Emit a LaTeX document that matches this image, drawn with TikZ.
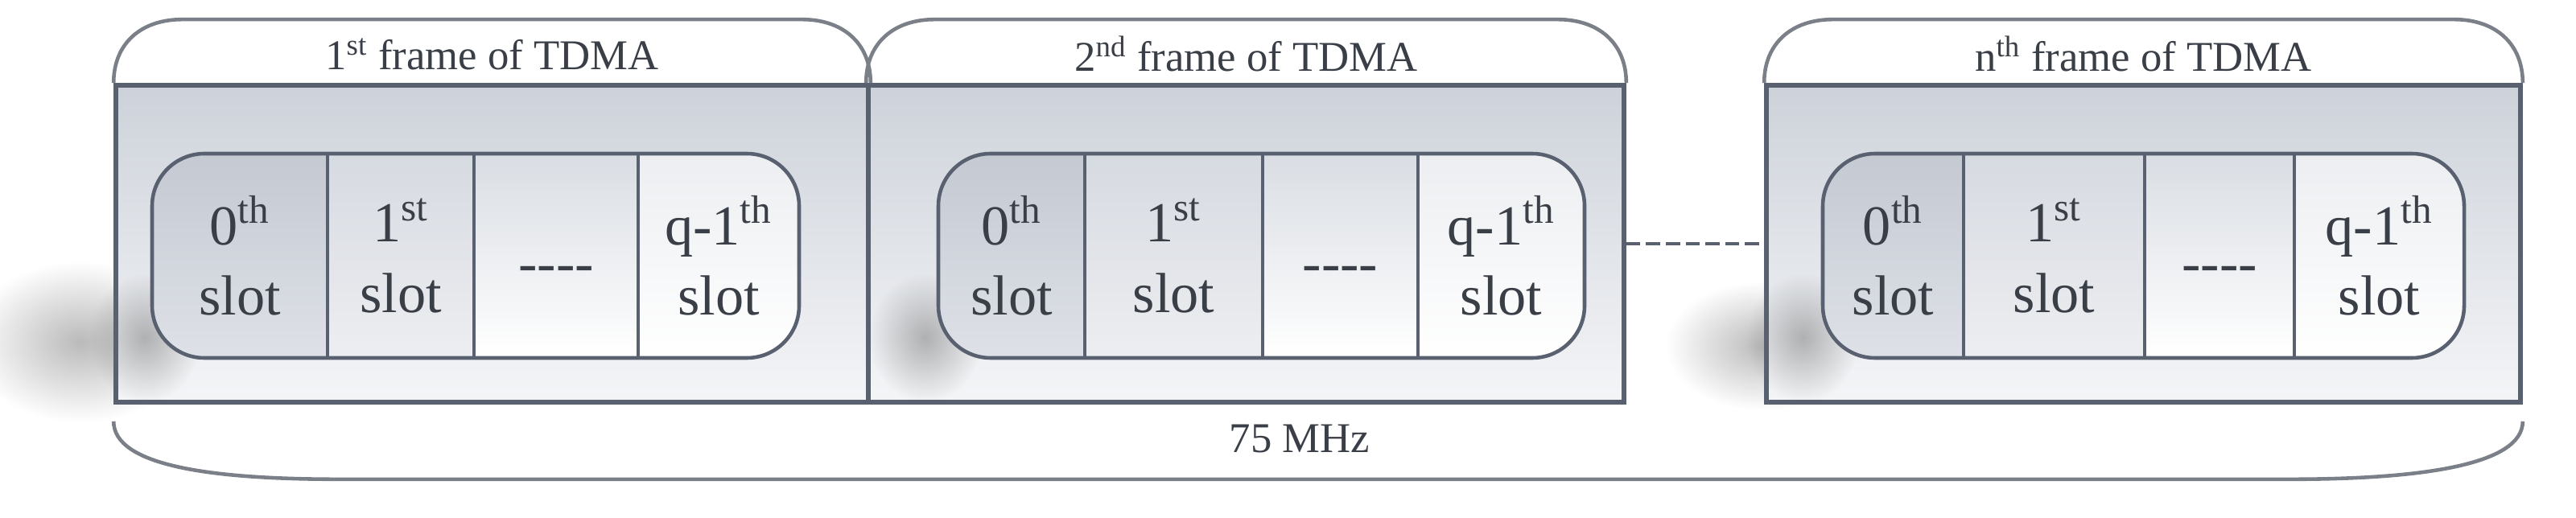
\documentclass[tikz,border=0pt]{standalone}
\usepackage{fontspec}
\setmainfont{Liberation Serif}
\usetikzlibrary{fadings}

\definecolor{edge}{HTML}{596170}
\definecolor{bracegray}{HTML}{7B8088}
\definecolor{ink}{HTML}{3A3F47}
\tikzfading[name = softspot, inner color = transparent!55, outer color = transparent!100]

\tikzset{
  tdmaframe/.style = {draw = edge, line width = 1.6pt, top color = {rgb,255:red,205;green,210;blue,218},
                      bottom color = {rgb,255:red,244;green,245;blue,247}, minimum height = 3.94cm, inner sep = 0pt},
  slotcell/.style  = {draw = edge, line width = 1pt, minimum height = 2.54cm, inner sep = 0pt, align = center,
                      text = ink, font = \fontsize{20}{25}\selectfont},
  slotA/.style     = {top color = {rgb,255:red,196;green,201;blue,210}, bottom color = {rgb,255:red,222;green,225;blue,231}},
  slotB/.style     = {top color = {rgb,255:red,214;green,218;blue,225}, bottom color = {rgb,255:red,237;green,238;blue,241}},
  slotC/.style     = {top color = {rgb,255:red,217;green,221;blue,227}, bottom color = white},
  slotD/.style     = {top color = {rgb,255:red,236;green,238;blue,241}, bottom color = white},
  brace/.style     = {draw = bracegray, line width = 1.3pt},
  frametitle/.style = {text = ink, font = \fontsize{15}{18}\selectfont},
  linkdash/.style  = {draw = edge, line width = 0.9pt, dash pattern = on 5pt off 2pt},
  shadowspot/.style = {fill = black!60, path fading = softspot}
}

\begin{document}
\begin{tikzpicture}
  \useasboundingbox (0,0) rectangle (32.01,-6.44);

  % soft shadows, outside the frames
  \fill [shadowspot] (1.0,-4.25) ellipse (1.4cm and 1.0cm);
  \fill [shadowspot] (21.9,-4.3) ellipse (1.2cm and 0.8cm);

  % frames
  \node [tdmaframe, minimum width = 9.35cm] (frA) at (6.115,-3.03) {};
  \node [tdmaframe, minimum width = 9.39cm] (frB) at (15.485,-3.03) {};
  \node [tdmaframe, minimum width = 9.37cm] (frN) at (26.635,-3.03) {};

  % soft shadows, inside the frames
  \foreach \x in {1.8, 11.5, 22.4}
    \fill [shadowspot] (\x,-4.2) ellipse (0.7cm and 0.8cm);

  % slot groups
  \foreach \f/\a/\b/\c/\d/\e in {A/1.89/4.07/5.89/7.93/9.93, B/11.66/13.48/15.69/17.62/19.69, N/22.65/24.40/26.65/28.51/30.62} {
    \begin{scope}
      \clip [rounded corners = 0.65cm] (\a,-1.91) rectangle (\e,-4.45);
      \node [slotcell, slotA, minimum width = {(\b-\a)*1cm}] (s\f0) at ({(\a+\b)/2},-3.18) {0\textsuperscript{th}\\slot};
      \node [slotcell, slotB, minimum width = {(\c-\b)*1cm}] (s\f1) at ({(\b+\c)/2},-3.18) {1\textsuperscript{st}\\slot};
      \node [slotcell, slotC, minimum width = {(\d-\c)*1cm}, text height = 0.64cm, text depth = 0cm] (s\f2) at ({(\c+\d)/2},-3.18) {-{}-{}-{}-};
      \node [slotcell, slotD, minimum width = {(\e-\d)*1cm}] (s\f3) at ({(\d+\e)/2},-3.18) {q-1\textsuperscript{th}\\slot};
    \end{scope}
    \draw [edge, line width = 1.3pt, rounded corners = 0.65cm] (\a,-1.91) rectangle (\e,-4.45);
  }

  % braces and titles
  \foreach \f in {frA, frB, frN}
    \draw [brace] (\f.north west) .. controls +(0,0.5) and +(-0.5,0) .. ([shift = {(0.85,0.79)}]\f.north west)
      -- ([shift = {(-0.85,0.79)}]\f.north east) .. controls +(0.5,0) and +(0,0.5) .. (\f.north east);
  \node [frametitle] (tA) at ([yshift = 0.36cm]frA.north) {1\textsuperscript{st} frame of TDMA};
  \node [frametitle] (tB) at ([yshift = 0.36cm]frB.north) {2\textsuperscript{nd} frame of TDMA};
  \node [frametitle] (tN) at ([yshift = 0.36cm]frN.north) {n\textsuperscript{th} frame of TDMA};

  \coordinate (bL) at ([yshift = -0.21cm]frA.south west);
  \coordinate (bR) at ([yshift = -0.21cm]frN.south east);
  \draw [brace] (bL) .. controls +(0,-0.55) and +(-1.6,0) .. ([shift = {(2.8,-0.72)}]bL)
    -- ([shift = {(-2.9,-0.72)}]bR) .. controls +(1.6,0) and +(0,-0.55) .. (bR);
  \node [frametitle] (bw) at (16.15,-5.45) {75 MHz};

  \draw [linkdash] (frB.east) -- (frN.west);
\end{tikzpicture}
\end{document}
